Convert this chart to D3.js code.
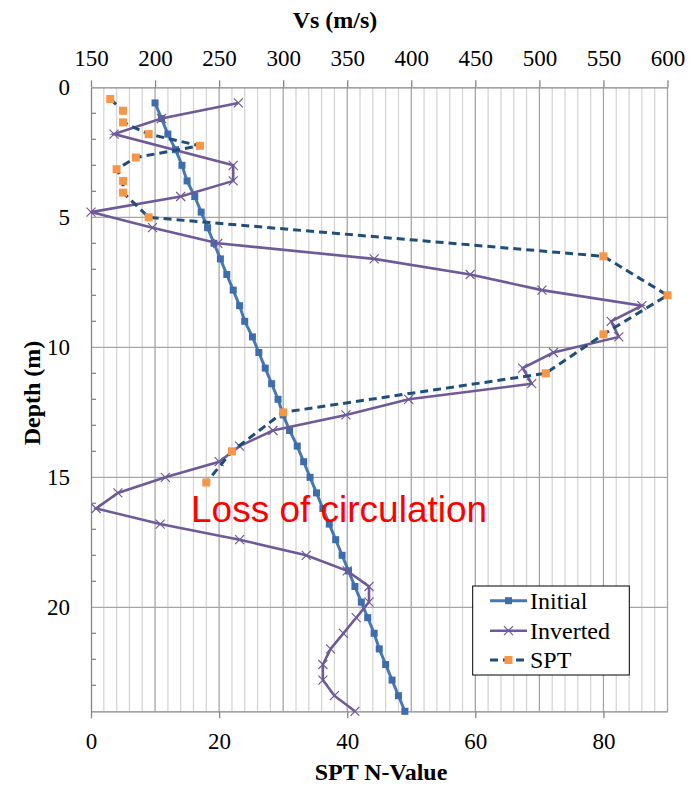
<!DOCTYPE html>
<html>
<head>
<meta charset="utf-8">
<script src="https://cdn.jsdelivr.net/npm/d3@7"></script>
<style>
    body { margin: 0; background: #fff; }
    svg { display: block; }
</style>
</head>
<body>
<svg id="chart" width="692" height="786"></svg>
<script>
// depth of each model layer (m)
var layerDepths = [0.6, 1.2, 1.8, 2.4, 3.0, 3.6, 4.2, 4.8, 5.4, 6.0, 6.6, 7.2, 7.8, 8.4, 9.0, 9.6, 10.2, 10.8, 11.4, 12.0,
    12.6, 13.2, 13.8, 14.4, 15.0, 15.6, 16.2, 16.8, 17.4, 18.0, 18.6, 19.2, 19.8, 20.4, 21.0, 21.6, 22.2, 22.8, 23.4, 24.0];
// initial Vs profile (m/s)
var initialVs = [200, 205, 210, 216, 221, 225, 231, 236, 241, 246, 251, 256, 261, 266, 270, 276, 281, 286, 291, 296,
    300, 305, 311, 316, 321, 326, 331, 336, 341, 346, 351, 356, 361, 366, 371, 375, 380, 385, 390, 395];

// inverted Vs profile (no marker visible at 2.4 m)
var invertedDepths = [0.6, 1.2, 1.8, 3.0, 3.6, 4.2, 4.8, 5.4, 6.0, 6.6, 7.2, 7.8, 8.4, 9.0, 9.6, 10.2, 10.8, 11.4, 12.0,
    12.6, 13.2, 13.8, 14.4, 15.0, 15.6, 16.2, 16.8, 17.4, 18.0, 18.6, 19.2, 19.8, 20.4, 21.0, 21.6, 22.2, 22.8, 23.4, 24.0];
var invertedVs = [265, 205, 168, 261, 261, 220, 150, 198, 249, 371, 446, 502, 580, 556, 562, 511, 487, 494, 398,
    349, 292, 266, 250, 208, 171, 154, 204, 266, 318, 350, 367, 367, 357, 347, 337, 331, 331, 340, 356];

// SPT blow counts
var sptDepths = [0.45, 0.9, 1.35, 1.8, 2.25, 2.7, 3.15, 3.6, 4.05, 5.0, 6.5, 8.0, 9.5, 11.0, 12.5, 14.0, 15.2];
var sptN = [3, 5, 5, 9, 17, 7, 4, 5, 5, 9, 80, 90, 80, 71, 30, 22, 18];

// axis ticks
var vsTicks = [150, 200, 250, 300, 350, 400, 450, 500, 550, 600];
var nTicks = [0, 20, 40, 60, 80];
var depthTicks = [0, 5, 10, 15, 20];
var depthMinorTicks = [1, 2, 3, 4, 6, 7, 8, 9, 11, 12, 13, 14, 16, 17, 18, 19, 21, 22, 23];

var plot = {left: 91, right: 667.5, top: 87.3, bottom: 711.3};
var serif = '"Liberation Serif", "Times New Roman", serif';

var svg = d3.select('#chart');
svg.append('rect').attr('width', 692).attr('height', 786).attr('fill', '#fff');

var xVs = d3.scaleLinear().domain([150, 600]).range([plot.left, plot.right]);
var xN = d3.scaleLinear().domain([0, 90]).range([plot.left, plot.right]);
var y = d3.scaleLinear().domain([0, 24]).range([plot.top, plot.bottom]);

// gridlines: minor every 10 m/s, major every 50 m/s, horizontal every 5 m
var grid = svg.append('g');
grid.selectAll('line.minor')
    .data(xVs.ticks(45).filter(function (v) { return v % 50 !== 0; }))
    .enter().append('line')
    .attr('x1', d => xVs(d)).attr('x2', d => xVs(d))
    .attr('y1', plot.top).attr('y2', plot.bottom)
    .attr('stroke', '#d6d6d6').attr('stroke-width', 1.3);
grid.selectAll('line.vmajor')
    .data(vsTicks.slice(1))
    .enter().append('line')
    .attr('x1', d => xVs(d)).attr('x2', d => xVs(d))
    .attr('y1', plot.top).attr('y2', plot.bottom)
    .attr('stroke', '#a6a6a6').attr('stroke-width', 1.3);
grid.selectAll('line.hmajor')
    .data(depthTicks.slice(1))
    .enter().append('line')
    .attr('x1', plot.left).attr('x2', plot.right)
    .attr('y1', d => y(d)).attr('y2', d => y(d))
    .attr('stroke', '#a6a6a6').attr('stroke-width', 1.3);

function styleAxis(g) {
    g.attr('font-family', serif).attr('font-size', 23);
    g.selectAll('path, line').attr('stroke', '#868686').attr('stroke-width', 1.3);
    g.selectAll('text').attr('fill', '#000').style('font-family', serif).style('font-size', '23px');
}

// top Vs axis
svg.append('g')
    .attr('transform', 'translate(0,' + plot.top + ')')
    .call(d3.axisTop(xVs).tickValues(vsTicks).tickSize(7).tickSizeOuter(0).tickPadding(14))
    .call(styleAxis);

// bottom SPT axis
svg.append('g')
    .attr('transform', 'translate(0,' + plot.bottom + ')')
    .call(d3.axisBottom(xN).tickValues(nTicks).tickSize(7).tickSizeOuter(0).tickPadding(14))
    .call(styleAxis);

// left depth axis, minor ticks point inward
svg.append('g')
    .attr('transform', 'translate(' + plot.left + ',0)')
    .call(d3.axisLeft(y).tickValues(depthTicks).tickSize(0).tickSizeOuter(0).tickPadding(21))
    .call(styleAxis);
svg.append('g').selectAll('line')
    .data(depthMinorTicks)
    .enter().append('line')
    .attr('x1', plot.left).attr('x2', plot.left + 5)
    .attr('y1', d => y(d)).attr('y2', d => y(d))
    .attr('stroke', '#868686').attr('stroke-width', 1.3);

// axis titles
svg.append('text').text('Vs (m/s)')
    .attr('x', 335).attr('y', 28).attr('text-anchor', 'middle')
    .style('font-family', serif).style('font-size', '24px').style('font-weight', 'bold');
svg.append('text').text('SPT N-Value')
    .attr('x', 381).attr('y', 780).attr('text-anchor', 'middle')
    .style('font-family', serif).style('font-size', '24px').style('font-weight', 'bold');
svg.append('text').text('Depth (m)')
    .attr('transform', 'translate(39.5,393) rotate(-90)').attr('text-anchor', 'middle')
    .style('font-family', serif).style('font-size', '24px').style('font-weight', 'bold');

var colors = {initial: '#4677b6', initialMark: '#3d6dab', inverted: '#6f5a99', spt: '#1f4e79', sptMark: '#f79646'};

function squares(g, pts, size, fill) {
    g.selectAll('rect').data(pts).enter().append('rect')
        .attr('x', d => d[0] - size / 2).attr('y', d => d[1] - size / 2)
        .attr('width', size).attr('height', size)
        .attr('fill', fill);
}

function crosses(g, pts, r, color) {
    g.selectAll('path.x').data(pts).enter().append('path')
        .attr('class', 'x')
        .attr('d', d => 'M' + (d[0] - r) + ',' + (d[1] - r) + 'L' + (d[0] + r) + ',' + (d[1] + r) +
            'M' + (d[0] - r) + ',' + (d[1] + r) + 'L' + (d[0] + r) + ',' + (d[1] - r))
        .attr('stroke', color).attr('stroke-width', 1.2).attr('fill', 'none');
}

var line = d3.line();

// Initial
var initialPts = layerDepths.map((d, i) => [xVs(initialVs[i]), y(d)]);
var gInit = svg.append('g');
gInit.append('path').attr('d', line(initialPts))
    .attr('fill', 'none').attr('stroke', colors.initial).attr('stroke-width', 3);
squares(gInit, initialPts, 7, colors.initialMark);

// Inverted
var invertedPts = invertedDepths.map((d, i) => [xVs(invertedVs[i]), y(d)]);
var gInv = svg.append('g');
gInv.append('path').attr('d', line(invertedPts))
    .attr('fill', 'none').attr('stroke', colors.inverted).attr('stroke-width', 2.6);
crosses(gInv, invertedPts, 4.5, colors.inverted);

// SPT
var sptPts = sptDepths.map((d, i) => [xN(sptN[i]), y(d)]);
var gSpt = svg.append('g');
gSpt.append('path').attr('d', line(sptPts))
    .attr('fill', 'none').attr('stroke', colors.spt).attr('stroke-width', 3)
    .attr('stroke-dasharray', '8,5');
squares(gSpt, sptPts, 8, colors.sptMark);

// annotation
svg.append('text').text('Loss of circulation')
    .attr('x', 191).attr('y', 521.7)
    .attr('fill', '#ff0000')
    .style('font-family', '"Liberation Sans", Arial, sans-serif').style('font-size', '37px');

// legend
var legend = svg.append('g');
legend.append('rect')
    .attr('x', 472.7).attr('y', 586).attr('width', 156.6).attr('height', 89)
    .attr('fill', '#fff').attr('stroke', '#000').attr('stroke-width', 1);
var legendItems = ['Initial', 'Inverted', 'SPT'];
var legendY = [600.7, 630.7, 660];
legendItems.forEach(function (name, i) {
    var ly = legendY[i];
    var g = legend.append('g');
    if (name === 'Initial') {
        g.append('line').attr('x1', 490).attr('x2', 527).attr('y1', ly).attr('y2', ly)
            .attr('stroke', colors.initial).attr('stroke-width', 3);
        squares(g, [[508.5, ly]], 7, colors.initialMark);
    } else if (name === 'Inverted') {
        g.append('line').attr('x1', 490).attr('x2', 527).attr('y1', ly).attr('y2', ly)
            .attr('stroke', colors.inverted).attr('stroke-width', 2.6);
        crosses(g, [[508.5, ly]], 4.5, colors.inverted);
    } else {
        g.append('line').attr('x1', 490).attr('x2', 527).attr('y1', ly).attr('y2', ly)
            .attr('stroke', colors.spt).attr('stroke-width', 3).attr('stroke-dasharray', '8,5');
        squares(g, [[508.5, ly]], 8, colors.sptMark);
    }
    g.append('text').text(name)
        .attr('x', 530).attr('y', ly + 8)
        .style('font-family', serif).style('font-size', '24px');
});
</script>
</body>
</html>
